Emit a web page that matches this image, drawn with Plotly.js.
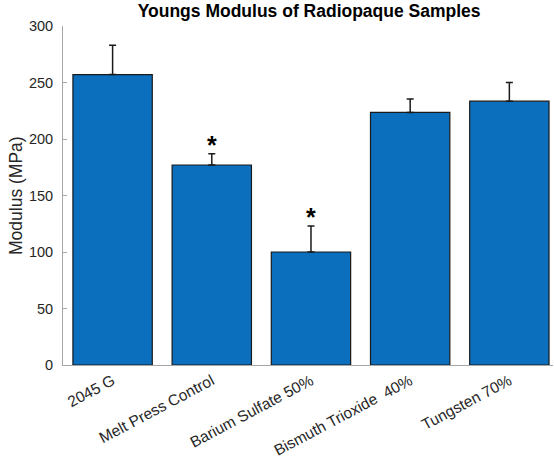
<!DOCTYPE html>
<html>
<head>
<meta charset="utf-8">
<script src="https://cdn.plot.ly/plotly-3.0.1.min.js"></script>
<style>html,body{margin:0;padding:0;background:#fff;}#chart{width:554px;height:463px;}</style>
</head>
<body>
<div id="chart"></div>
<script>
const categories = ["2045 G", "Melt Press Control", "Barium Sulfate 50%", "Bismuth Trioxide  40%", "Tungsten 70%"];
const modulus = [257, 177, 100, 223.5, 233.5];
const errorUp = [26, 10, 23, 12, 16.5];
const significant = [false, true, true, false, false];
const yTicks = [0, 50, 100, 150, 200, 250, 300];

const font = "Liberation Sans, Arial, Helvetica, sans-serif";

const trace = {
  type: "bar",
  x: categories,
  y: modulus,
  width: 0.8,
  marker: {color: "#0b6fbd", line: {color: "#1a1a1a", width: 1.2}},
  error_y: {type: "data", symmetric: false, array: errorUp, arrayminus: errorUp.map(() => 0),
            color: "#1a1a1a", thickness: 1.5, width: 3.5},
  hoverinfo: "none"
};

const annotations = [];
categories.forEach((c, i) => {
  if (significant[i]) {
    annotations.push({x: c, y: modulus[i] + errorUp[i], xref: "x", yref: "y", text: "<b>*</b>",
      showarrow: false, yanchor: "bottom", yshift: -7, font: {family: font, size: 25, color: "#000"}});
  }
});
annotations.push({text: "Modulus (MPa)", xref: "paper", yref: "paper", x: -0.097, y: 0.5,
  textangle: -90, showarrow: false, xanchor: "center", yanchor: "middle",
  font: {family: font, size: 17.5, color: "#262626"}});

const layout = {
  width: 554, height: 463,
  margin: {l: 63, r: 1, t: 26, b: 98, pad: 0},
  paper_bgcolor: "#fff", plot_bgcolor: "#fff",
  showlegend: false,
  title: {text: "<b>Youngs Modulus of Radiopaque Samples</b>", x: 0.558, xref: "container",
          xanchor: "center", y: 0.99, yref: "container", yanchor: "top",
          font: {family: font, size: 17.5, color: "#000"}},
  xaxis: {type: "category", range: [-0.5, 4.44], showline: true, linecolor: "#a6a6a6", linewidth: 1,
          ticks: "", tickangle: -28, tickfont: {family: font, size: 15.5, color: "#262626"},
          showgrid: false, zeroline: false, fixedrange: true, automargin: false},
  yaxis: {range: [0, 300], tickvals: yTicks, showline: true, linecolor: "#a6a6a6", linewidth: 1,
          ticks: "inside", ticklen: 4, tickcolor: "#a6a6a6", ticklabelstandoff: 6,
          tickfont: {family: font, size: 14.5, color: "#262626"},
          showgrid: false, zeroline: false, fixedrange: true, automargin: false},
  annotations: annotations
};

Plotly.newPlot("chart", [trace], layout, {displayModeBar: false, staticPlot: true});
</script>
</body>
</html>
